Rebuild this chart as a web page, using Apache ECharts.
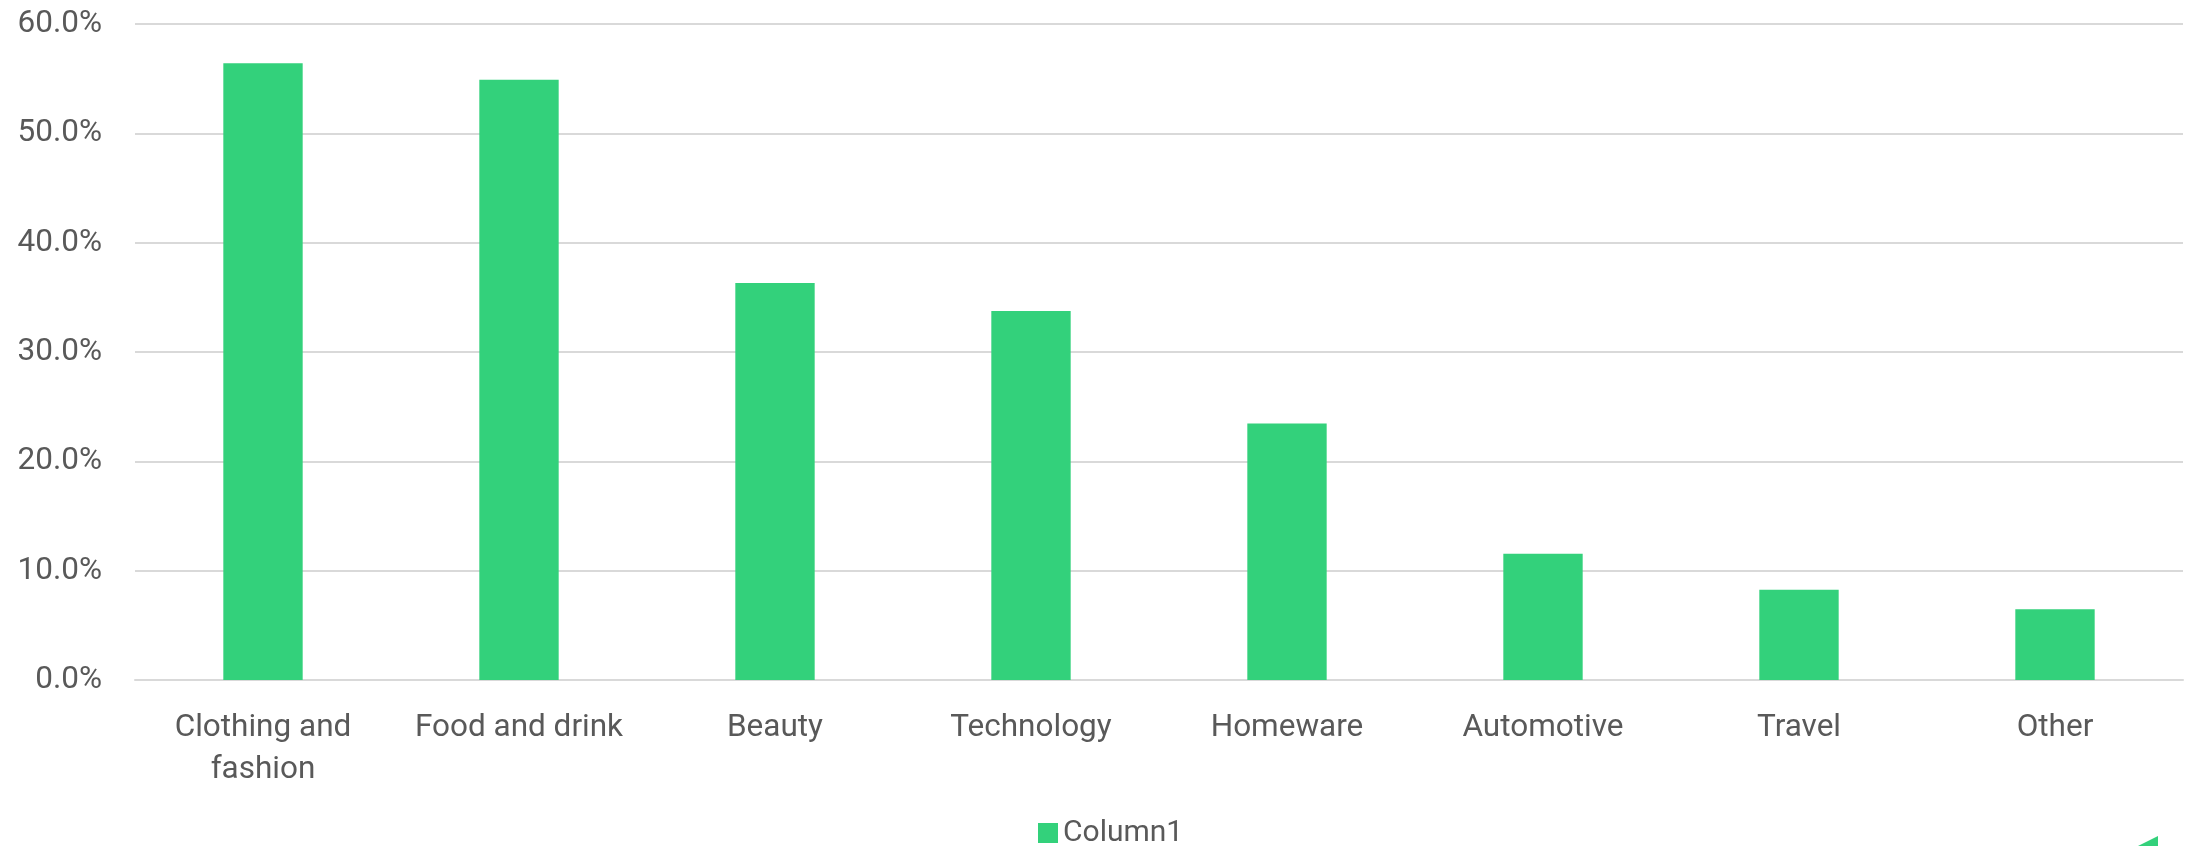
<!DOCTYPE html>
<html>
<head>
<meta charset="utf-8">
<script src="https://cdn.jsdelivr.net/npm/echarts@6/dist/echarts.min.js"></script>
<style>
html,body{margin:0;padding:0;background:#fff;}
#chart{width:2195px;height:846px;}
</style>
</head>
<body>
<div id="chart"></div>
<script>
const categories = ["Clothing and\nfashion", "Food and drink", "Beauty", "Technology", "Homeware", "Automotive", "Travel", "Other"];
const values = [0.564, 0.549, 0.363, 0.3375, 0.2345, 0.1155, 0.0826, 0.0646];
const seriesName = "Column1";
const yTicks = { min: 0, max: 0.6, interval: 0.1 };

const chart = echarts.init(document.getElementById('chart'), null, {renderer: 'canvas'});
const font = 'Roboto';
chart.setOption({
  animation: false,
  backgroundColor: '#ffffff',
  grid: { left: 135, right: 12, top: 24, bottom: 166, containLabel: false },
  legend: {
    data: [seriesName],
    left: 1033,
    top: 813,
    itemWidth: 20,
    itemHeight: 20,
    itemGap: 8,
    icon: 'rect',
    textStyle: { fontFamily: font, fontSize: 30, color: '#595959', padding: [0,0,0,0] }
  },
  xAxis: {
    type: 'category',
    data: categories,
    axisLine: { show: true, lineStyle: { color: '#d9d9d9', width: 2 } },
    axisTick: { show: false },
    axisLabel: { fontFamily: font, fontSize: 31.5, color: '#595959', margin: 27, lineHeight: 42, interval: 0 }
  },
  yAxis: {
    type: 'value',
    min: yTicks.min, max: yTicks.max, interval: yTicks.interval,
    axisLine: { show: false },
    axisTick: { show: false },
    splitLine: { lineStyle: { color: '#d9d9d9', width: 2 } },
    axisLabel: {
      fontFamily: font, fontSize: 31.5, color: '#595959', margin: 33,
      formatter: v => (v * 100).toFixed(1) + '%'
    }
  },
  series: [{
    name: seriesName,
    type: 'bar',
    data: values,
    barWidth: '31%',
    itemStyle: { color: '#33d17b' }
  }],
  graphic: [{
    type: 'polygon',
    shape: { points: [[2138, 846], [2158, 836], [2158, 846]] },
    style: { fill: '#33d17b' }
  }]
});
</script>
</body>
</html>
